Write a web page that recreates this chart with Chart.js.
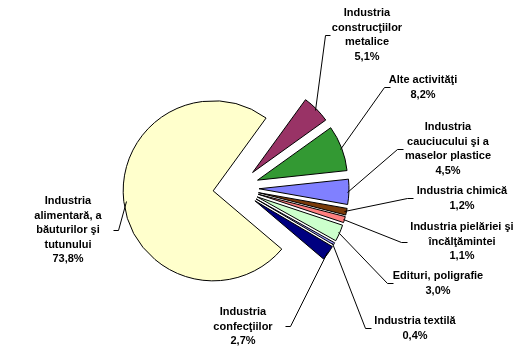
<!DOCTYPE html>
<html>
<head>
<meta charset="utf-8">
<script src="https://cdn.jsdelivr.net/npm/chart.js@4"></script>
<style>
  html, body { margin: 0; padding: 0; background: #fff; }
  #wrap { width: 528px; height: 352px; }
</style>
</head>
<body>
<div id="wrap"><canvas id="myChart" width="528" height="352"></canvas></div>
<script>
// data
const categories = [
    ['Industria', 'construcţiilor', 'metalice'],
    ['Alte activităţi'],
    ['Industria', 'cauciucului şi a', 'maselor plastice'],
    ['Industria chimică'],
    ['Industria pielăriei şi', 'încălţămintei'],
    ['Edituri, poligrafie'],
    ['Industria textilă'],
    ['Industria', 'confecţiilor'],
    ['Industria', 'alimentară, a', 'băuturilor şi', 'tutunului']
];
const shares = [5.1, 8.2, 4.5, 1.2, 1.1, 3.0, 0.4, 2.7, 73.8];

const colors = ['#993366', '#339933', '#8080FF', '#7A3A0A', '#FF8080', '#CCFFCC', '#9999FF', '#000080', '#FFFFCC'];
const explode = [22, 22, 22, 22, 22, 22, 22, 22, 24];

// label layout: text centre x, first line y, elbow of leader, tick direction
const labelPos = [
    { x: 367, y: 13, ex: 325, ey: 35, tick: 5 },
    { x: 423, y: 80, ex: 384, ey: 87, tick: 6 },
    { x: 448, y: 127, ex: 397, ey: 149, tick: 6 },
    { x: 462, y: 191, ex: 407, ey: 198, tick: 6 },
    { x: 462, y: 227, ex: 401, ey: 242, tick: 6 },
    { x: 438, y: 276, ex: 387, ey: 283, tick: 6 },
    { x: 415, y: 321, ex: 365, ey: 328, tick: 6 },
    { x: 243, y: 312, ex: 290, ey: 326, tick: -5 },
    { x: 68, y: 201, ex: 118, ey: 230, tick: -5 }
];

const explodePlugin = {
    id: 'explode',
    beforeDatasetsDraw(chart) {
        const a = chart.chartArea;
        const cx = (a.left + a.right) / 2;
        const cy = (a.top + a.bottom) / 2;
        chart.getDatasetMeta(0).data.forEach((arc, i) => {
            const mid = (arc.startAngle + arc.endAngle) / 2;
            arc.x = cx + Math.cos(mid) * explode[i];
            arc.y = cy + Math.sin(mid) * explode[i];
        });
    }
};

const labelPlugin = {
    id: 'outLabels',
    afterDatasetsDraw(chart) {
        const ctx = chart.ctx;
        const lineH = 14.6;
        ctx.save();
        ctx.strokeStyle = '#000';
        ctx.lineWidth = 1;
        ctx.fillStyle = '#000';
        ctx.font = 'bold 11px "Liberation Sans", Arial, sans-serif';
        ctx.textAlign = 'center';
        ctx.textBaseline = 'middle';
        chart.getDatasetMeta(0).data.forEach((arc, i) => {
            const p = labelPos[i];
            const mid = (arc.startAngle + arc.endAngle) / 2;
            const r = arc.outerRadius - 2;
            const sx = arc.x + Math.cos(mid) * r;
            const sy = arc.y + Math.sin(mid) * r;
            ctx.beginPath();
            ctx.moveTo(Math.round(sx) + 0.5, Math.round(sy) + 0.5);
            ctx.lineTo(p.ex + 0.5, p.ey + 0.5);
            ctx.lineTo(p.ex + p.tick + 0.5, p.ey + 0.5);
            ctx.stroke();
            const lines = categories[i].concat([shares[i].toFixed(1).replace('.', ',') + '%']);
            lines.forEach((t, k) => ctx.fillText(t, p.x, p.y + k * lineH));
        });
        ctx.restore();
    }
};

new Chart(document.getElementById('myChart'), {
    type: 'pie',
    data: {
        labels: categories.map(c => c.join(' ')),
        datasets: [{
            data: shares,
            backgroundColor: colors,
            borderColor: '#000',
            borderWidth: 1
        }]
    },
    options: {
        responsive: false,
        animation: false,
        events: [],
        rotation: 36,
        radius: 90,
        layout: { padding: { left: 0, right: 54, top: 24, bottom: 0 } },
        plugins: {
            legend: { display: false },
            tooltip: { enabled: false }
        }
    },
    plugins: [explodePlugin, labelPlugin]
});
</script>
</body>
</html>
